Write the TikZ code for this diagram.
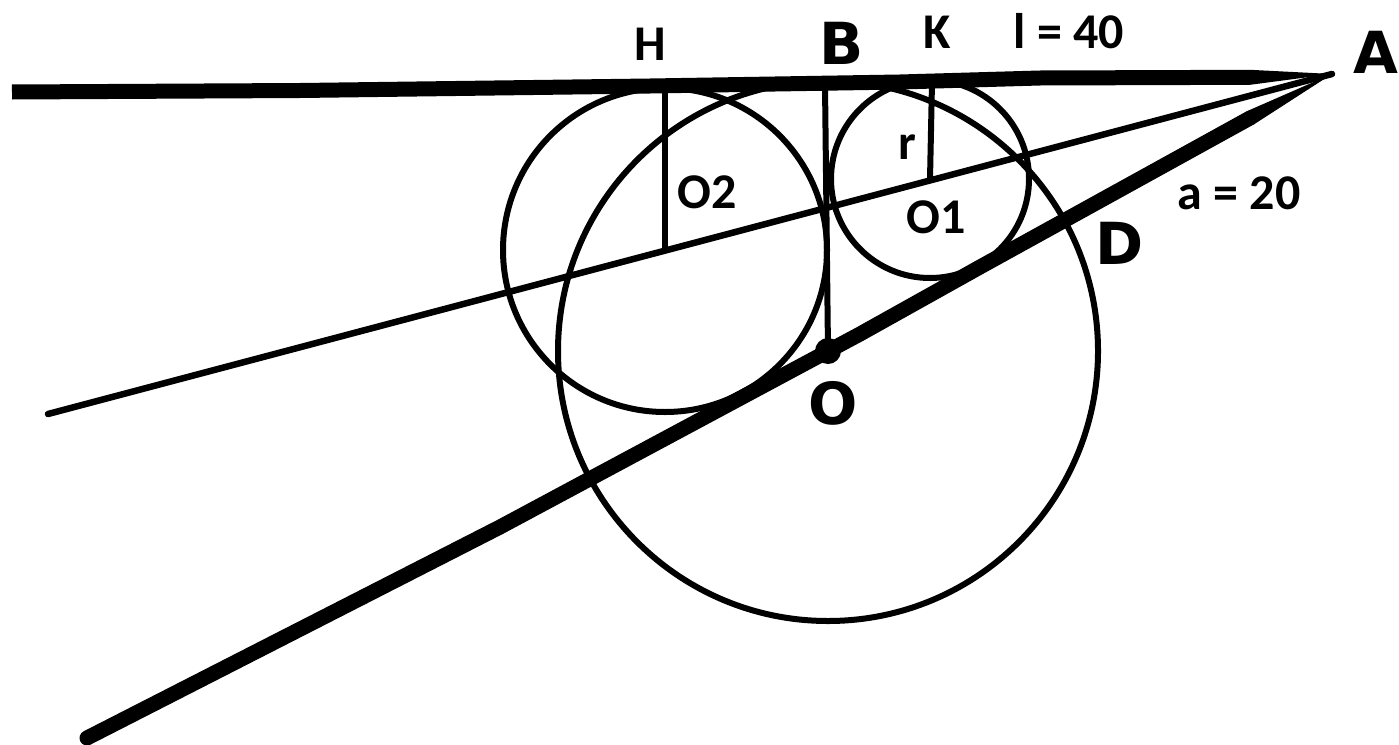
\documentclass[tikz,border=0pt]{standalone}
\usepackage{fontspec}
\setmainfont{Carlito}
\newfontfamily\heavyfont{DejaVu Sans}
\begin{document}
\begin{tikzpicture}[x=1pt,y=-1pt,
  thinln/.style={line width=6.5pt, line cap=round},
  vln/.style={line width=6pt},
  circ/.style={line width=6pt},
  heavyln/.style={line width=15pt, line join=round},
  lbl/.style={inner sep=0pt, font={\fontsize{50}{60}\selectfont\bfseries}},
  biglbl/.style={inner sep=0pt, font={\heavyfont\bfseries\fontsize{58}{68}\selectfont}}]
\useasboundingbox (0,0) rectangle (1399,744);

% key points
\coordinate (A) at (1332,74);
\coordinate (O) at (828,351);
\coordinate (O1) at (930,179);
\coordinate (O2) at (665,250);
\coordinate (L) at (48,414);
\coordinate (E) at (87,738);
\coordinate (T) at (12,92);
\coordinate (Hf) at (665,87);
\coordinate (Bf) at (825,85);
\coordinate (Kf) at (932,82);

% top thick line (tangent line through A)
\draw[heavyln] (T) -- (300,90.5) -- (650,86) -- (900,82) -- (1040,78) -- (1250,77.3);
\fill (1250,69.8) -- (A) -- (1250,84.8) -- cycle;

% lower thick line through O
\draw[heavyln, line cap=round] (E) -- (500,527) -- (860,334) -- (980,267) -- (1250,118);
\fill (1246.4,111.4) -- (A) -- (1253.6,124.6) -- cycle;

% thin bisector line
\draw[thinln] (A) -- (L);

% circles
\draw[circ] (O) circle[radius=270pt];
\draw[circ] (O2) circle[radius=162pt];
\draw[circ] (O1) circle[radius=99pt];

% perpendiculars
\draw[vln] (Hf) -- (O2);
\draw[vln] (Bf) -- (O);
\draw[vln] (Kf) -- (O1);

% centre dot
\fill (O) circle[radius=13pt];

% labels
\node[lbl] (lH) at (650,44) {H};
\node[biglbl] (lB) at (842,43) {B};
\node[lbl] (lK) at (937,32) {K};
\node[lbl] (ll) at (1069,31) {l = 40};
\node[biglbl, anchor=west] (lA) at (1353,52) {A};
\node[lbl] (lr) at (907,147) {r};
\node[lbl] (lO2) at (707,192) {O2};
\node[lbl] (lO1) at (936,217) {O1};
\node[lbl] (la) at (1239,193) {a = 20};
\node[biglbl] (lD) at (1120,243) {D};
\node[biglbl] (lO) at (833,403) {O};
\end{tikzpicture}
\end{document}
